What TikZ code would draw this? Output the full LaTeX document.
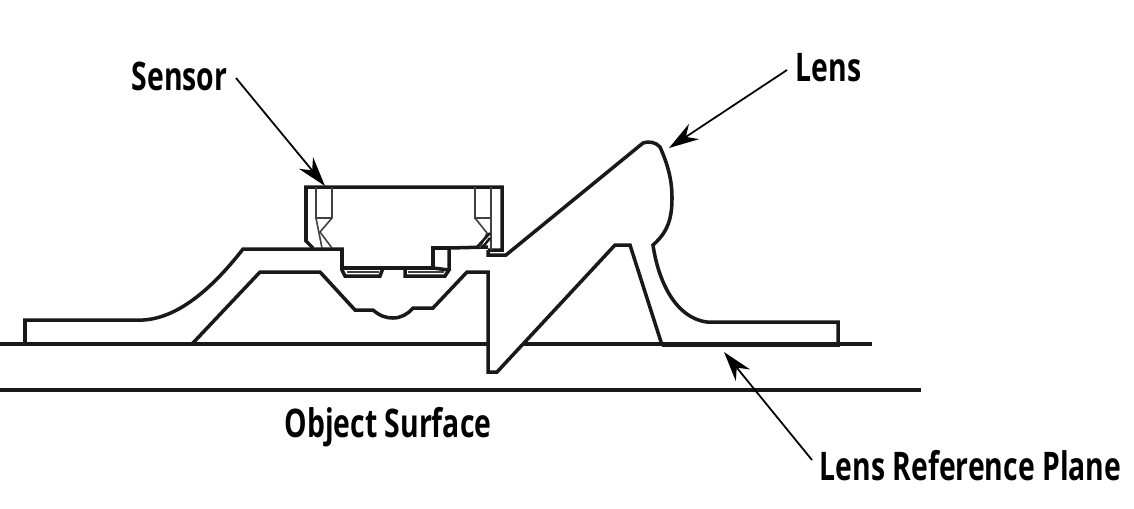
\documentclass[tikz,border=0pt]{standalone}
\usepackage{fontspec}
\setmainfont[FakeStretch=0.72]{Open Sans}
\usetikzlibrary{arrows.meta}
\tikzstyle{outline} = [draw, line width=1pt, line join=miter, black!90]
\tikzstyle{baseline} = [draw, line width=0.9pt, black!90]
\tikzstyle{thinline} = [draw, line width=0.45pt, black!75]
\tikzstyle{callout} = [draw, line width=0.5pt, -{Stealth[length=8.5pt, width=5.2pt]}]
\tikzstyle{label} = [inner sep=0pt, font=\fontsize{11.2}{13}\selectfont\bfseries]

\begin{document}
\begin{tikzpicture}[x=0.01cm, y=-0.01cm]
\useasboundingbox (0, 0) rectangle (1134, 508);

\path[baseline] (0, 344) -- (487, 344);
\path[baseline] (524, 344) -- (872, 344);
\path[baseline] (0, 390) -- (921, 390);

% outer body, left side
\path[outline] (25, 344) -- (25, 320) -- (143, 320) .. controls (180, 318) and (215, 285) .. (243, 249) -- (342, 249) -- (342, 270) -- (345, 276) -- (380, 276) -- (383, 268) -- (405, 268) -- (405, 276) -- (445, 276) -- (449, 270) -- (449, 248) -- (488, 247);
\path[outline] (342, 268) -- (433, 268) -- (433, 248) -- (449, 248);
\path[outline] (433, 268) -- (449, 270);
\path[thinline] (347, 272) -- (379, 272);
\path[thinline] (408, 272) -- (444, 272);

% inner cavity
\path[outline] (192, 344) -- (260, 272) -- (320, 272) -- (355, 310) -- (373, 310) .. controls (380, 316) and (386, 318) .. (393, 318) .. controls (401, 318) and (408, 314) .. (413, 308) -- (433, 308) -- (467, 272) -- (488, 272) -- (488, 372) -- (497, 372) -- (615, 245) -- (630, 245) -- (662, 345);

% lens
\path[outline] (488, 250) -- (488, 255) -- (506, 255) -- (643, 143) .. controls (648, 141) and (656, 142) .. (660, 147) .. controls (668, 165) and (672, 180) .. (672, 198) .. controls (672, 218) and (668, 232) .. (653, 245) .. controls (658, 280) and (675, 318) .. (707, 322) -- (838, 322) -- (838, 345) -- (662, 345);

% sensor package
\path[outline] (313, 248) -- (306, 241) -- (306, 187) -- (502, 187) -- (502, 250) -- (488, 250);
\path[thinline] (316, 187) -- (316, 218) -- (332, 218);
\path[thinline] (332, 187) -- (332, 218) -- (320, 232) -- (332, 248);
\path[thinline] (316, 218) -- (322, 248);
\path[thinline] (475, 187) -- (475, 218) -- (491, 218);
\path[thinline] (491, 187) -- (491, 250);
\path[thinline] (475, 218) -- (487, 233) -- (480, 248);
\path[outline, line width=0.7pt] (490, 233) -- (476, 248);
\path[outline, line width=0.7pt] (490, 238) -- (482, 248);

\coordinate (sensortip) at (325, 186);
\coordinate (lenstip) at (669, 148);
\coordinate (planetip) at (724, 352);

\node[label, anchor=east] (sensorlabel) at (228, 76) {Sensor};
\node[label, anchor=west] (lenslabel) at (795, 68) {Lens};
\node[label] (surfacelabel) at (388, 427) {Object Surface};
\node[label, anchor=west] (planelabel) at (819, 466) {Lens Reference Plane};

\path[callout] (sensorlabel.east) ++(8, 2) coordinate (sensorstart) -- (sensortip);
\path[callout] (lenslabel.west) ++(-8, 2) coordinate (lensstart) -- (lenstip);
\path[callout] (planelabel.west) ++(-7, -6) coordinate (planestart) -- (planetip);
\end{tikzpicture}
\end{document}
